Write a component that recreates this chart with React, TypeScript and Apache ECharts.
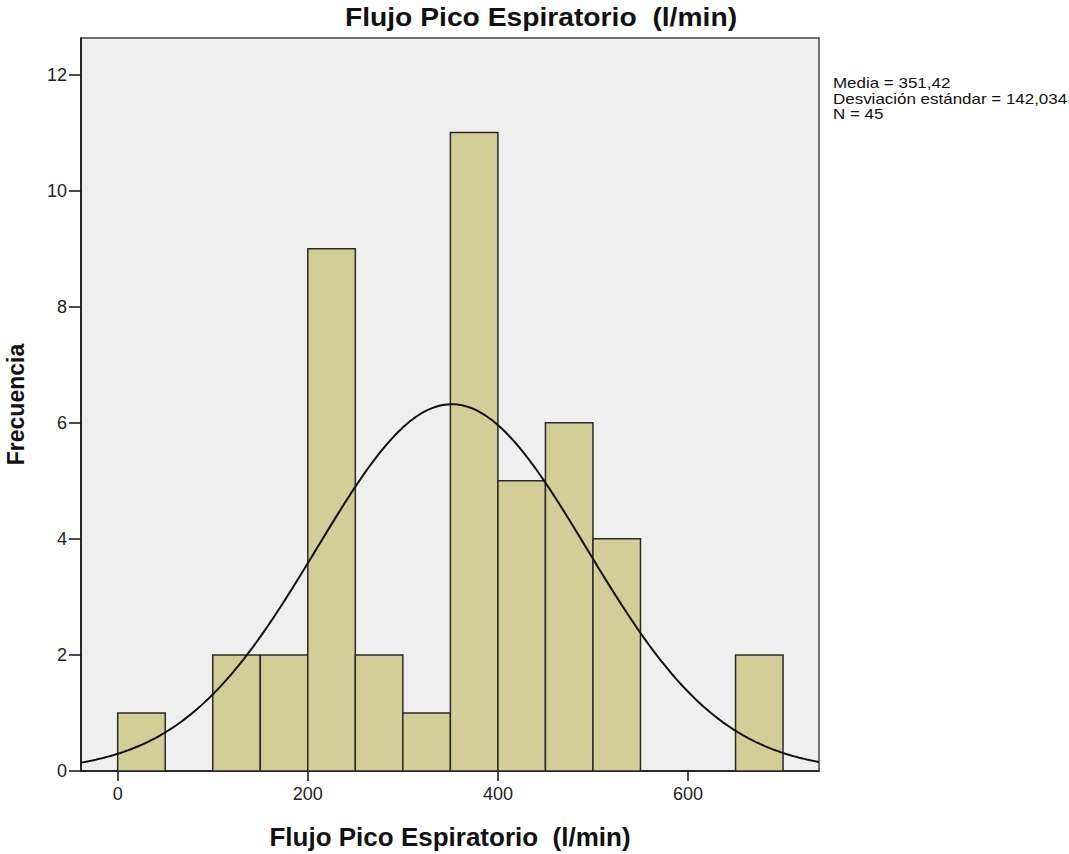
import React, { useEffect, useRef } from "react";
import * as echarts from "echarts";

const binStarts = [0, 50, 100, 150, 200, 250, 300, 350, 400, 450, 500, 550, 600, 650];
const binWidth = 50;
const counts = [1, 0, 2, 2, 9, 2, 1, 11, 5, 6, 4, 0, 0, 2];
const xTicks = [0, 200, 400, 600];
const yTicks = [0, 2, 4, 6, 8, 10, 12];
const mean = 351.42;
const sd = 142.034;
const n = 45;
const statsLines = ["Media = 351,42", "Desviación estándar = 142,034", "N = 45"];
const titleText = "Flujo Pico Espiratorio  (l/min)";
const xName = "Flujo Pico Espiratorio  (l/min)";
const yName = "Frecuencia";

const X_MIN = -38.6;
const X_MAX = 737.8;
const Y_MAX = 12.63;

export default function App() {
  const ref = useRef<HTMLDivElement>(null);
  useEffect(() => {
    if (!ref.current) return;
    const chart = echarts.init(ref.current, undefined, { renderer: "svg" });
    const bars = binStarts
      .map((s, i) => [s, s + binWidth, counts[i]])
      .filter((d) => d[2] > 0);
    const curve: number[][] = [];
    const steps = 300;
    for (let i = 0; i <= steps; i++) {
      const x = X_MIN + ((X_MAX - X_MIN) * i) / steps;
      const z = (x - mean) / sd;
      const y = ((n * binWidth) / (sd * Math.sqrt(2 * Math.PI))) * Math.exp(-0.5 * z * z);
      curve.push([x, y]);
    }
    const statsY = [75.5, 91, 106.5];
    chart.setOption({
      animation: false,
      backgroundColor: "#ffffff",
      grid: {
        left: 81,
        right: 250,
        top: 38,
        bottom: 83,
        containLabel: false,
        outerBoundsMode: "none",
        show: true,
        backgroundColor: "#efefef",
        borderColor: "#444",
        borderWidth: 1.5,
      },
      xAxis: {
        type: "value",
        min: X_MIN,
        max: X_MAX,
        name: xName,
        nameLocation: "middle",
        nameGap: 53,
        nameTextStyle: {
          fontFamily: "Liberation Sans",
          fontWeight: "bold",
          fontSize: 26,
          color: "#111",
          verticalAlign: "top",
        },
        splitLine: { show: false },
        axisLine: { show: true, onZero: false, lineStyle: { color: "#111", width: 1.5 } },
        axisTick: { show: true, length: 10, customValues: xTicks, lineStyle: { color: "#111", width: 1.5 } },
        axisLabel: {
          customValues: xTicks,
          fontFamily: "Liberation Sans",
          fontSize: 18,
          color: "#222",
          margin: 14,
        },
      },
      yAxis: {
        type: "value",
        min: 0,
        max: Y_MAX,
        name: yName,
        nameLocation: "middle",
        nameGap: 54,
        nameRotate: 90,
        nameTextStyle: {
          fontFamily: "Liberation Sans",
          fontWeight: "bold",
          fontSize: 23,
          color: "#111",
        },
        splitLine: { show: false },
        axisLine: { show: true, onZero: false, lineStyle: { color: "#111", width: 1.5 } },
        axisTick: { show: true, length: 12, customValues: yTicks, lineStyle: { color: "#111", width: 1.5 } },
        axisLabel: {
          customValues: yTicks,
          fontFamily: "Liberation Sans",
          fontSize: 18,
          color: "#222",
          margin: 14,
        },
      },
      graphic: [
        {
          type: "text",
          x: 541,
          y: 5,
          scaleX: 1.13,
          style: {
            text: titleText,
            fontFamily: "Liberation Sans",
            fontWeight: "bold",
            fontSize: 25,
            fill: "#111",
            textAlign: "center",
            textVerticalAlign: "top",
          },
        },
        ...statsLines.map((t, i) => ({
          type: "text",
          x: 833,
          y: statsY[i],
          scaleX: 1.17,
          style: {
            text: t,
            fontFamily: "Liberation Sans",
            fontSize: 14.5,
            fill: "#111",
            textAlign: "left",
            textVerticalAlign: "top",
          },
        })),
      ],
      series: [
        {
          type: "custom",
          data: bars,
          encode: { x: [0, 1], y: 2 },
          renderItem: (params: any, api: any) => {
            const p0 = api.coord([api.value(0), api.value(2)]);
            const p1 = api.coord([api.value(1), 0]);
            return {
              type: "rect",
              shape: { x: p0[0], y: p0[1], width: p1[0] - p0[0], height: p1[1] - p0[1] },
              style: { fill: "#d3ce97", stroke: "#2a2a2a", lineWidth: 1.5 },
            };
          },
          z: 2,
        },
        {
          type: "line",
          data: curve,
          showSymbol: false,
          symbol: "none",
          smooth: false,
          lineStyle: { color: "#111", width: 2 },
          z: 3,
        },
      ],
    });
    return () => chart.dispose();
  }, []);
  return (
    <div
      ref={ref}
      style={{ position: "fixed", left: 0, top: 0, width: 1069, height: 854 }}
    />
  );
}
